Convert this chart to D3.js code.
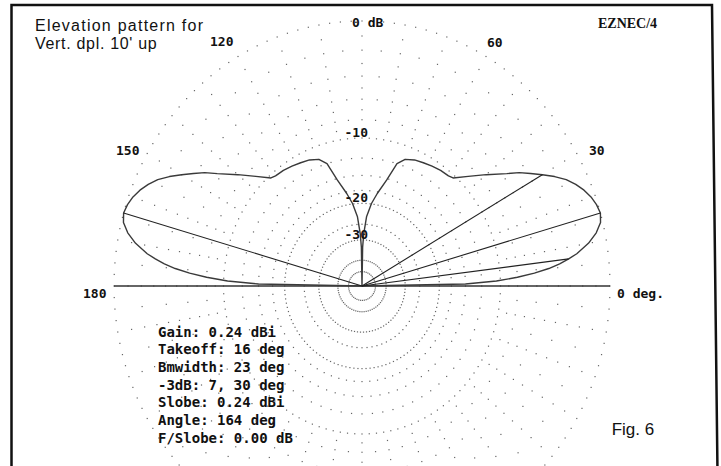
<!DOCTYPE html>
<html><head><meta charset="utf-8">
<script src="https://cdn.jsdelivr.net/npm/d3@7"></script>
<style>body{margin:0;background:#fff}svg{display:block}</style>
</head><body><svg id="c" width="721" height="466"></svg>
<script>
// ---------- data ----------
const elevAngles = [0,1,2,3,4,5,6,7,8,10,12,14,16,18,20,22,24,26,28,30,32,34,36,40,44,48,50,54,58,62,66,70,73,76,80,83,86,88,89,90,
  91,92,94,97,100,104,107,110,114,118,122,126,130,132,136,140,144,146,148,150,152,154,156,158,160,162,164,166,168,170,172,173,174,175,176,177,178,179,180];
const relGainDb = [-99,-15,-10.5,-8,-6.2,-4.8,-3.8,-3.0,-2.3,-1.3,-0.6,-0.15,0,-0.1,-0.3,-0.6,-1.0,-1.5,-2.2,-3.0,-3.8,-4.6,-5.6,-7.3,-8.9,-10.3,-10.5,-10.6,-10.8,-11.0,-11.2,-11.6,-12.5,-15.2,-17.8,-19.9,-23.0,-28.0,-33,-99,
  -33,-28.0,-23.0,-19.9,-17.8,-15.2,-12.5,-11.6,-11.2,-11.0,-10.8,-10.6,-10.5,-10.3,-8.9,-7.3,-5.6,-4.6,-3.8,-3.0,-2.2,-1.5,-1.0,-0.6,-0.3,-0.1,0,-0.15,-0.6,-1.3,-2.3,-3.0,-3.8,-4.8,-6.2,-8,-10.5,-15,-99];
const markerAngles = [16, 7, 30, 164];
const markerDb = [0, -3, -3, 0];
const majorRingDb = [0, -10, -20, -30, -40, -50];
const majorRingStep = [2.5, 3, 3, 4, 5, 8];
const minorRingDb = [-1,-2,-3,-4,-5,-6,-7,-8,-9,-12.5,-15,-17.5,-25];
const spokeStep = 5;
const angleLabels = ["120","60","150","30","180","0 deg."];
const dbLabels = ["0 dB","-10","-20","-30"];
const dbLabelValues = [0,-10,-20,-30];
const titleLines = ["Elevation pattern for","Vert. dpl. 10' up"];
const statLines = ["Gain: 0.24 dBi","Takeoff: 16 deg","Bmwidth: 23 deg","-3dB: 7, 30 deg","Slobe: 0.24 dBi","Angle: 164 deg","F/Slobe: 0.00 dB"];
const progName = "EZNEC/4";
const figName = "Fig. 6";

// ---------- geometry ----------
const cx = 362, cy = 286, Rx = 248, Ry = 265;
const x = d3.scaleLinear().domain([-1, 1]).range([cx - Rx, cx + Rx]);
const y = d3.scaleLinear().domain([-1, 1]).range([cy + Ry, cy - Ry]);
const arrl = db => db <= -90 ? 0 : Math.pow(0.89, -db / 2);   // ARRL log scale
const rad = d => d * Math.PI / 180;
const pt = (a, db) => { const r = arrl(db); return [x(r * Math.cos(rad(a))), y(r * Math.sin(rad(a)))]; };

const svg = d3.select("#c");
svg.append("rect").attr("width",721).attr("height",466).attr("fill","#fff");

// frame
svg.append("path").attr("d","M11.5,5 L712,5 L717.5,472 L11.5,472 Z")
  .attr("fill","none").attr("stroke","#111").attr("stroke-width",2.5);

const grid = svg.append("g").attr("fill","#666");
// major dotted rings
majorRingDb.forEach((db, i) => {
  const st = majorRingStep[i];
  for (let a = 0; a < 360; a += st) {
    const [px, py] = pt(a, db);
    grid.append("rect").attr("x", px - 0.6).attr("y", py - 0.6).attr("width", 1.2).attr("height", 1.2);
  }
});
// sparse spoke dots
for (let a = 0; a < 360; a += spokeStep) {
  const odd = (a % 10) !== 0;
  minorRingDb.forEach(db => {
    if (odd && db > -10 && (Math.abs(db) % 2) !== 0) return;
    const [px, py] = pt(a, db);
    grid.append("rect").attr("x", px - 0.6).attr("y", py - 0.6).attr("width", 1.2).attr("height", 1.2);
  });
}

// horizon line
svg.append("line").attr("x1", x(-1)).attr("x2", x(1)).attr("y1", y(0)).attr("y2", y(0))
  .attr("stroke","#333").attr("stroke-width",1.6);

// pattern
const pts = elevAngles.map((a, i) => pt(a, relGainDb[i]));
svg.append("path").attr("d", d3.line()(pts)).attr("fill","none")
  .attr("stroke","#3a3a3a").attr("stroke-width",1.4).attr("stroke-linejoin","round");

// marker lines
markerAngles.forEach((a, i) => {
  const [px, py] = pt(a, markerDb[i]);
  svg.append("line").attr("x1", x(0)).attr("y1", y(0)).attr("x2", px).attr("y2", py)
    .attr("stroke","#222").attr("stroke-width",1.1);
});

// labels
const mono = "'DejaVu Sans Mono', monospace";
const angPos = [[210,46],[487,46.5],[116,155],[589,155],[83,298],[617,298]];
angleLabels.forEach((t, i) => {
  svg.append("text").attr("x", angPos[i][0]).attr("y", angPos[i][1]).text(t)
    .attr("font-family", mono).attr("font-weight","bold").attr("font-size",13).attr("fill","#111");
});
dbLabels.forEach((t, i) => {
  const yy = y(arrl(dbLabelValues[i])) + (i === 0 ? 6 : -1);
  const el = svg.append("text").attr("y", yy).text(t)
    .attr("font-family", mono).attr("font-weight","bold").attr("font-size",13).attr("fill","#111");
  if (i === 0) el.attr("x", 352).attr("text-anchor","start");
  else el.attr("x", 368).attr("text-anchor","end");
});

// title
const tl = [[35,31,168],[35,49,121.7]];
titleLines.forEach((t, i) => {
  svg.append("text").attr("x", tl[i][0]).attr("y", tl[i][1]).text(t)
    .attr("font-family","'Liberation Sans', Arial, sans-serif").attr("font-size",16)
    .attr("textLength", tl[i][2]).attr("lengthAdjust","spacing").attr("fill","#111");
});
svg.append("text").attr("x",598).attr("y",28.3).text(progName)
  .attr("font-family","'Liberation Serif', serif").attr("font-weight","bold").attr("font-size",14).attr("fill","#111");
svg.append("text").attr("x",611.7).attr("y",435).text(figName)
  .attr("font-family","'Liberation Sans', Arial, sans-serif").attr("font-size",17).attr("fill","#111");

// stats block
statLines.forEach((t, i) => {
  svg.append("text").attr("x",158).attr("y",336.5 + i * 17.7).text(t)
    .attr("font-family", mono).attr("font-weight","bold").attr("font-size",14).attr("fill","#111")
    .attr("xml:space","preserve");
});
</script></body></html>
